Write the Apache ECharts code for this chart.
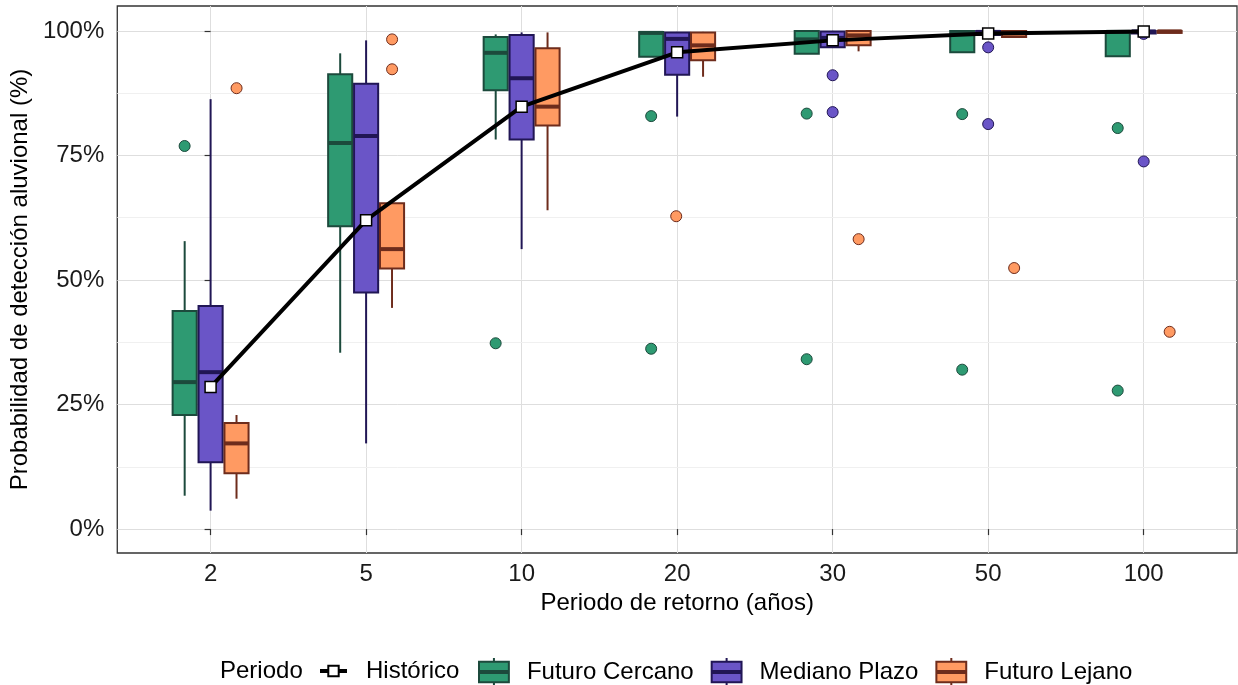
<!DOCTYPE html>
<html>
<head>
<meta charset="UTF-8">
<title>Probabilidad de detección aluvional</title>
<script src="https://cdn.jsdelivr.net/npm/echarts@6/dist/echarts.min.js"></script>
<style>
html, body { margin: 0; padding: 0; background: #fff; }
#myChart { width: 1238px; height: 685px; }
</style>
</head>
<body>
<div id="myChart"></div>
<script>
// periodos de retorno (eje x)
var categorias = ['2', '5', '10', '20', '30', '50', '100'];
var ticksY = [0, 25, 50, 75, 100];

// linea historica
var historico = [28.5, 62.0, 84.8, 95.7, 98.1, 99.5, 99.9];

// cajas: [min bigote, q1, mediana, q3, max bigote]
var cercano = [
    [6.7, 22.9, 29.5, 43.8, 57.8],
    [35.4, 60.8, 77.5, 91.3, 95.5],
    [78.2, 88.1, 95.6, 98.8, 99.3],
    [94.8, 94.8, 99.6, 99.8, 99.9],
    [95.4, 95.4, 98.3, 100, 100],
    [95.7, 95.7, 99.5, 100, 100],
    [94.9, 94.9, 99.8, 100, 100]
];
var mediano = [
    [3.7, 13.4, 31.5, 44.8, 86.3],
    [17.2, 47.5, 78.9, 89.4, 98.1],
    [56.2, 78.2, 90.5, 99.2, 99.7],
    [82.8, 91.2, 98.4, 99.7, 99.8],
    [96.7, 96.7, 98.6, 99.9, 100],
    [99.2, 99.2, 99.8, 100, 100],
    [99.5, 99.5, 99.9, 100, 100]
];
var lejano = [
    [6.1, 11.2, 17.2, 21.3, 22.9],
    [44.4, 52.3, 56.2, 65.4, 65.4],
    [64.0, 81.0, 84.8, 96.5, 99.7],
    [90.8, 94.1, 97.1, 99.7, 99.8],
    [95.9, 97.1, 99.1, 100, 100],
    [98.8, 98.8, 99.5, 100, 100],
    [99.6, 99.6, 99.9, 100, 100]
];

// atipicos: [posicion x (en unidades de categoria), valor]
var atipCercano = [[-0.167, 76.9], [1.833, 37.3], [2.833, 82.9], [2.833, 36.2], [3.833, 83.4], [3.833, 34.1], [4.833, 83.3], [4.833, 32.0], [5.833, 80.5], [5.833, 27.8]];
var atipMediano = [[4, 91.1], [4, 83.7], [5, 96.7], [5, 81.3], [6, 99.4], [6, 73.8]];
var atipLejano = [[0.167, 88.5], [1.167, 98.3], [1.167, 92.3], [2.994, 62.8], [4.167, 58.2], [5.167, 52.4], [6.167, 39.6]];

var grupos = [
    {nombre: 'Futuro Cercano', cajas: cercano, atip: atipCercano, desp: -1 / 6, relleno: '#2e9a72', borde: '#1c4a3c'},
    {nombre: 'Mediano Plazo', cajas: mediano, atip: atipMediano, desp: 0, relleno: '#6a55c7', borde: '#211655'},
    {nombre: 'Futuro Lejano', cajas: lejano, atip: atipLejano, desp: 1 / 6, relleno: '#ff9a62', borde: '#6e2c1c'}
];

var anchoCaja = 0.155;
var fuente = 'Liberation Sans, Arial, sans-serif';

var chart = echarts.init(document.getElementById('myChart'), null, {renderer: 'canvas'});

function cajaRender(color, borde) {
    return function (params, api) {
        var x = api.value(0);
        var pLo = api.coord([x, api.value(1)]);
        var pQ1 = api.coord([x, api.value(2)]);
        var pMed = api.coord([x, api.value(3)]);
        var pQ3 = api.coord([x, api.value(4)]);
        var pHi = api.coord([x, api.value(5)]);
        var w = api.size([anchoCaja, 0])[0];
        var cx = pLo[0];
        return {
            type: 'group',
            children: [
                {type: 'line', shape: {x1: cx, y1: pHi[1], x2: cx, y2: pQ3[1]}, style: {stroke: borde, lineWidth: 2}},
                {type: 'line', shape: {x1: cx, y1: pQ1[1], x2: cx, y2: pLo[1]}, style: {stroke: borde, lineWidth: 2}},
                {type: 'rect', shape: {x: cx - w / 2, y: pQ3[1], width: w, height: pQ1[1] - pQ3[1]}, style: {fill: color, stroke: borde, lineWidth: 2}},
                {type: 'line', shape: {x1: cx - w / 2, y1: pMed[1], x2: cx + w / 2, y2: pMed[1]}, style: {stroke: borde, lineWidth: 4}}
            ]
        };
    };
}

var series = [];
var legendCajas = [];
// icono de caja para la leyenda
var iconoCaja = 'path://M16,0V4M0,4H32V26H0ZM0,14H32V16H0ZM16,26V30';

grupos.forEach(function (g) {
    var datos = g.cajas.map(function (c, i) {
        return [i + g.desp, c[0], c[1], c[2], c[3], c[4]];
    });
    series.push({
        name: g.nombre,
        type: 'custom',
        renderItem: cajaRender(g.relleno, g.borde),
        encode: {x: 0, y: [1, 2, 3, 4, 5]},
        itemStyle: {color: g.relleno, borderColor: g.borde},
        data: datos,
        z: 2,
        silent: true
    });
    series.push({
        name: g.nombre + ' atípicos',
        type: 'scatter',
        symbol: 'circle',
        symbolSize: 11,
        itemStyle: {color: g.relleno, borderColor: g.borde, borderWidth: 1, opacity: 1},
        data: g.atip,
        z: 3,
        silent: true
    });
    legendCajas.push({
        name: g.nombre,
        icon: iconoCaja,
        itemStyle: {color: g.relleno, borderColor: g.borde, borderWidth: 2}
    });
});

series.push({
    name: 'Histórico',
    type: 'line',
    data: historico.map(function (v, i) { return [i, v]; }),
    symbol: 'rect',
    symbolSize: 11,
    showSymbol: true,
    lineStyle: {color: '#000', width: 4},
    itemStyle: {color: '#fff', borderColor: '#000', borderWidth: 1.5},
    z: 5,
    silent: true,
    markLine: {
        silent: true,
        symbol: 'none',
        label: {show: false},
        lineStyle: {color: '#f0f0f0', width: 1, type: 'solid'},
        data: [{yAxis: 12.5}, {yAxis: 37.5}, {yAxis: 62.5}, {yAxis: 87.5}],
        z: 0
    }
});

var option = {
    animation: false,
    backgroundColor: '#fff',
    textStyle: {fontFamily: fuente},
    title: {
        text: 'Periodo',
        left: 220,
        top: 659,
        padding: 0,
        textStyle: {fontSize: 24, fontWeight: 'normal', color: '#000', fontFamily: fuente}
    },
    legend: [{
        data: [{name: 'Histórico', lineStyle: {width: 4, color: '#000'}}],
        left: 318,
        top: 659,
        padding: 0,
        itemWidth: 27,
        itemHeight: 13,
        textStyle: {fontSize: 24, color: '#000', fontFamily: fuente, padding: [0, 0, 0, 14]},
        selectedMode: false
    }, {
        data: legendCajas,
        left: 478,
        top: 657,
        padding: 0,
        itemWidth: 32,
        itemHeight: 28,
        itemGap: 17,
        textStyle: {fontSize: 24, color: '#000', fontFamily: fuente, padding: [0, 0, 0, 12]},
        selectedMode: false
    }],
    grid: {
        left: 115,
        top: 6,
        right: 1,
        bottom: 132,
        show: true,
        borderColor: '#333',
        borderWidth: 1.3,
        containLabel: false
    },
    xAxis: {
        type: 'value',
        min: -0.6,
        max: 6.6,
        name: 'Periodo de retorno (años)',
        nameLocation: 'middle',
        nameGap: 38,
        nameTextStyle: {fontSize: 24, color: '#000', fontFamily: fuente},
        axisLine: {show: false},
        axisTick: {show: true, length: 6, lineStyle: {color: '#333', width: 1.2}, customValues: [0, 1, 2, 3, 4, 5, 6]},
        axisLabel: {
            customValues: [0, 1, 2, 3, 4, 5, 6],
            margin: 9,
            fontSize: 24,
            color: '#1a1a1a',
            fontFamily: fuente,
            formatter: function (v) { return categorias[Math.round(v)]; }
        },
        splitLine: {show: true, lineStyle: {color: '#dedede', width: 1}}
    },
    yAxis: {
        type: 'value',
        min: -4.8,
        max: 105,
        name: 'Probabilidad de detección aluvional (%)',
        nameLocation: 'middle',
        nameGap: 78,
        nameTextStyle: {fontSize: 24, color: '#000', fontFamily: fuente},
        axisLine: {show: false},
        axisTick: {show: true, length: 6, lineStyle: {color: '#333', width: 1.2}, customValues: ticksY},
        axisLabel: {
            customValues: ticksY,
            margin: 13,
            fontSize: 24,
            color: '#1a1a1a',
            fontFamily: fuente,
            formatter: function (v) { return v + '%'; }
        },
        splitLine: {show: true, lineStyle: {color: '#dedede', width: 1}}
    },
    series: series
};

chart.setOption(option);
</script>
</body>
</html>
